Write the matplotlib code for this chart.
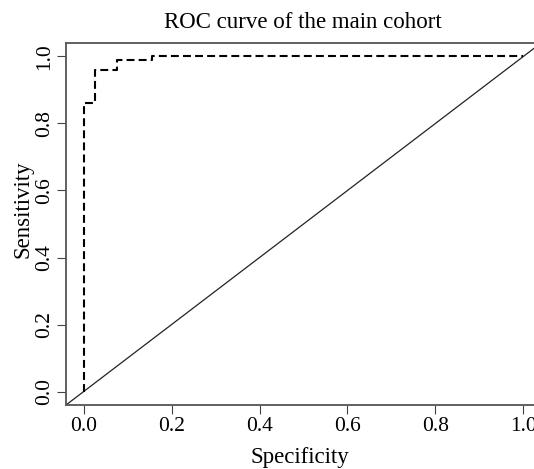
"""ROC curve of the main cohort."""
import matplotlib
matplotlib.use("Agg")
import matplotlib.pyplot as plt

# step points of the ROC curve
spec = [0.0, 0.0, 0.026, 0.026, 0.077, 0.077, 0.156, 0.156, 1.0]
sens = [0.0, 0.86, 0.86, 0.96, 0.96, 0.99, 0.99, 1.0, 1.0]
ticks = [0.0, 0.2, 0.4, 0.6, 0.8, 1.0]
tick_labels = ["0.0", "0.2", "0.4", "0.6", "0.8", "1.0"]

plt.rcParams['font.family'] = ['Liberation Serif', 'DejaVu Serif']

W, H = 534, 469
fig = plt.figure(figsize=(W / 100, H / 100), dpi=100)
# the right part of the plot box is cut off in the original
left, right, top, bottom = 66, 541, 43, 405
ax = fig.add_axes([left / W, 1 - bottom / H, (right - left) / W, (bottom - top) / H])

ax.plot([-0.04, 1.04], [-0.04, 1.04], color="#222222", lw=0.9)
ln, = ax.plot(spec, sens, color="black", lw=1.5)
ln.set_dashes((3.8, 2.0))

ax.set_xlim(-0.04, 1.04)
ax.set_ylim(-0.04, 1.04)
ax.set_xticks(ticks)
ax.set_xticklabels(tick_labels)
ax.set_yticks(ticks)
ax.set_yticklabels(tick_labels, rotation=90, va="center")
ax.tick_params(direction="out", length=6.5, width=0.8, color="#444444",
               labelsize=15.5, pad=2)
for s in ax.spines.values():
    s.set_color("#555555")
    s.set_linewidth(1.3)

fig.text(303 / W, 1 - 28 / H, "ROC curve of the main cohort",
         ha="center", va="baseline", fontsize=16.5)
fig.text(300 / W, 1 - 463 / H, "Specificity", ha="center", va="baseline",
         fontsize=16.5)
fig.text(23 / W, 1 - 209 / H, "Sensitivity", ha="center", va="center",
         rotation=90, fontsize=16.5)

fig.savefig("out.png", dpi=100)
